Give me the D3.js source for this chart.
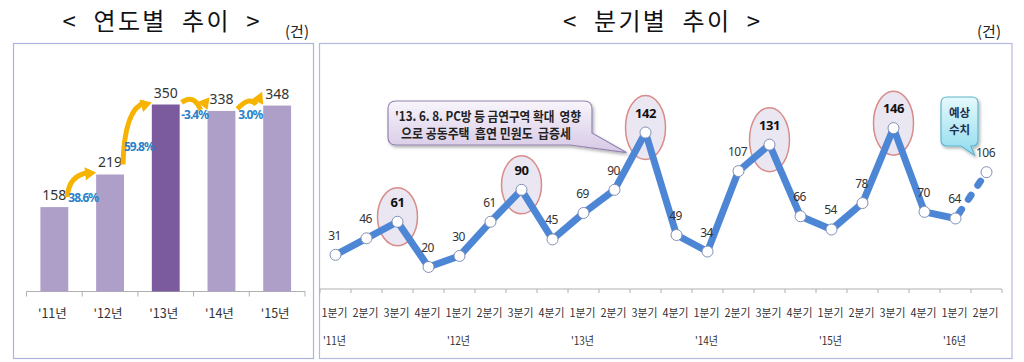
<!DOCTYPE html>
<html>
<head>
<meta charset="utf-8">
<script src="https://cdn.jsdelivr.net/npm/d3@7/dist/d3.min.js"></script>
<style>
  html, body { margin: 0; padding: 0; background: #fff; }
  svg { display: block; font-family: "Noto Sans CJK KR", "Noto Sans", sans-serif; }
</style>
</head>
<body>
<svg id="chart" width="1024" height="362"></svg>
<script>
// ---------- data ----------
const years = ["'11년", "'12년", "'13년", "'14년", "'15년"];
const yearValues = [158, 219, 350, 338, 348];
const yearGrowth = ["38.6%", "59.8%", "-3.4%", "3.0%"];
const peakYear = "'13년";

const quarters = ["1분기","2분기","3분기","4분기","1분기","2분기","3분기","4분기",
                  "1분기","2분기","3분기","4분기","1분기","2분기","3분기","4분기",
                  "1분기","2분기","3분기","4분기","1분기","2분기"];
const quarterYears = ["'11년", "'12년", "'13년", "'14년", "'15년", "'16년"];
const quarterValues = [31, 46, 61, 20, 30, 61, 90, 45, 69, 90, 142, 49, 34, 107, 131, 66, 54, 78, 146, 70, 64, 106];
const highlighted = [2, 6, 10, 14, 18];
const forecastIndex = 21;

const note1 = ["'13. 6. 8. PC방 등 금연구역 확대  영향", "으로 공동주택  흡연 민원도  급증세"];
const note2 = ["예상", "수치"];

// ---------- setup ----------
const svg = d3.select("#chart");
const defs = svg.append("defs");

const g1 = defs.append("linearGradient").attr("id", "noteGrad").attr("x1", 0).attr("y1", 0).attr("x2", 0).attr("y2", 1);
g1.append("stop").attr("offset", "0%").attr("stop-color", "#f8f5fb");
g1.append("stop").attr("offset", "100%").attr("stop-color", "#d6c8e6");
const g2 = defs.append("linearGradient").attr("id", "noteGrad2").attr("x1", 0).attr("y1", 0).attr("x2", 0).attr("y2", 1);
g2.append("stop").attr("offset", "0%").attr("stop-color", "#e6f9fc");
g2.append("stop").attr("offset", "100%").attr("stop-color", "#8fdcee");
const sh = defs.append("filter").attr("id", "shadow").attr("x", "-10%").attr("y", "-10%").attr("width", "130%").attr("height", "140%");
sh.append("feDropShadow").attr("dx", 1.5).attr("dy", 2).attr("stdDeviation", 1.5).attr("flood-color", "#000").attr("flood-opacity", 0.3);

// panel borders
svg.append("rect").attr("x", 13.5).attr("y", 43.5).attr("width", 300).attr("height", 315)
  .attr("fill", "none").attr("stroke", "#aeb3de").attr("stroke-width", 1.2);
svg.append("rect").attr("x", 319.5).attr("y", 43.5).attr("width", 692.5).attr("height", 315)
  .attr("fill", "none").attr("stroke", "#b4bade").attr("stroke-width", 1.2);

// titles
svg.append("text").attr("x", 161).attr("y", 30).attr("text-anchor", "middle")
  .attr("font-size", 24).attr("fill", "#111").attr("textLength", 197).attr("lengthAdjust", "spacing")
  .style("white-space", "pre").text("<  연도별  추이  >");
svg.append("text").attr("x", 661.5).attr("y", 30).attr("text-anchor", "middle")
  .attr("font-size", 24).attr("fill", "#111").attr("textLength", 197).attr("lengthAdjust", "spacing")
  .style("white-space", "pre").text("<  분기별  추이  >");
svg.append("text").attr("x", 297).attr("y", 37).attr("text-anchor", "middle")
  .attr("font-size", 15).attr("fill", "#222").text("(건)");
svg.append("text").attr("x", 989).attr("y", 37).attr("text-anchor", "middle")
  .attr("font-size", 15).attr("fill", "#222").text("(건)");

// ---------- left: yearly bars ----------
const xL = d3.scaleBand().domain(years).range([26.5, 305]).paddingInner(0.5).paddingOuter(0.25);
const yL = d3.scaleLinear().domain([0, 400]).range([291.5, 77.8]);
const left = svg.append("g");

left.append("line").attr("x1", 26.5).attr("x2", 305).attr("y1", yL(0)).attr("y2", yL(0))
  .attr("stroke", "#b0b0b0").attr("stroke-width", 1);
d3.range(years.length + 1).forEach(i => {
  const x = 26.5 + i * xL.step();
  left.append("line").attr("x1", x).attr("x2", x).attr("y1", yL(0)).attr("y2", yL(0) + 5)
    .attr("stroke", "#b0b0b0").attr("stroke-width", 1);
});

left.selectAll("rect.bar").data(years).enter().append("rect")
  .attr("x", d => xL(d)).attr("width", xL.bandwidth())
  .attr("y", (d, i) => yL(yearValues[i])).attr("height", (d, i) => yL(0) - yL(yearValues[i]))
  .attr("fill", d => d === peakYear ? "#7b5b9d" : "#ae9fc8");

left.selectAll("text.val").data(years).enter().append("text")
  .attr("x", d => xL(d) + xL.bandwidth() / 2).attr("y", (d, i) => yL(yearValues[i]) - 7)
  .attr("text-anchor", "middle").attr("font-size", 14).attr("fill", "#333")
  .attr("font-family", "'Noto Sans', sans-serif")
  .text((d, i) => yearValues[i]);

left.selectAll("text.xl").data(years).enter().append("text")
  .attr("x", d => xL(d) + xL.bandwidth() / 2 - 2).attr("y", yL(0) + 26)
  .attr("text-anchor", "middle").attr("font-size", 12.5).attr("fill", "#333")
  .text(d => d);

// growth arrows
yearGrowth.forEach((g, i) => {
  const a = years[i], b = years[i + 1];
  const ta = yL(yearValues[i]), tb = yL(yearValues[i + 1]);
  const rise = ta - tb;
  let sx, sy, ex, ey, cx, cy;
  if (rise > 20) {
    sx = xL(a) + xL.bandwidth() - (rise > 80 ? 4 : 1);
    sy = ta - (rise > 80 ? 16 : 10);
    ex = xL(b) - 1; ey = tb - 2;
    cx = sx + (ex - sx) * 0.05; cy = ey + (sy - ey) * 0.1;
  } else {
    sx = xL(a) + xL.bandwidth() + 2; sy = ta - 2;
    ex = xL(b) - 1; ey = tb - 1;
    cx = (sx + ex) / 2; cy = Math.min(sy, ey) - 9;
  }
  left.append("path")
    .attr("d", `M${sx},${sy} Q${cx},${cy} ${ex - 6},${ey}`)
    .attr("fill", "none").attr("stroke", "#f6b400").attr("stroke-width", 5).attr("stroke-linecap", "butt");
  const ang = Math.atan2(ey - cy, ex - 6 - cx);
  const hx = ex + 1, hy = ey;
  const bx = hx - 11 * Math.cos(ang), by = hy - 11 * Math.sin(ang);
  const px = -Math.sin(ang) * 6.5, py = Math.cos(ang) * 6.5;
  left.append("path")
    .attr("d", `M${hx},${hy} L${bx + px},${by + py} L${bx - px},${by - py} Z`)
    .attr("fill", "#f6b400");
  const gapC = (xL(a) + xL.bandwidth() + xL(b)) / 2;
  left.append("text").attr("x", gapC + 1).attr("y", (ta + tb) / 2 + 11)
    .attr("text-anchor", "middle").attr("font-size", 12).attr("font-weight", "bold")
    .attr("letter-spacing", -1).attr("fill", "#2b7fc9")
    .attr("font-family", "'Noto Sans', sans-serif")
    .text(g);
});

// ---------- right: quarterly line ----------
const idx = d3.range(quarters.length);
const xR = d3.scaleBand().domain(idx).range([320, 1002]);
const yR = d3.scaleLinear().domain([0, 160]).range([289, 112.7]);
const cxR = i => xR(i) + xR.bandwidth() / 2;
const right = svg.append("g");

right.append("line").attr("x1", 320).attr("x2", 1002).attr("y1", yR(0)).attr("y2", yR(0))
  .attr("stroke", "#b0b0b0").attr("stroke-width", 1);
d3.range(quarters.length + 1).forEach(i => {
  const x = 320 + i * xR.step();
  right.append("line").attr("x1", x).attr("x2", x).attr("y1", yR(0)).attr("y2", yR(0) + 4)
    .attr("stroke", "#b0b0b0").attr("stroke-width", 1);
});
right.selectAll("text.q").data(idx).enter().append("text")
  .attr("x", d => cxR(d) - 1).attr("y", yR(0) + 28)
  .attr("text-anchor", "middle").attr("font-size", 11.5).attr("fill", "#333")
  .attr("textLength", 26).attr("lengthAdjust", "spacingAndGlyphs")
  .text(d => quarters[d]);
right.selectAll("text.qy").data(quarterYears).enter().append("text")
  .attr("x", (d, i) => cxR(i * 4) - 1).attr("y", yR(0) + 56)
  .attr("text-anchor", "middle").attr("font-size", 11.5).attr("fill", "#333")
  .attr("textLength", 23).attr("lengthAdjust", "spacingAndGlyphs")
  .text(d => d);

right.selectAll("ellipse.hl").data(highlighted).enter().append("ellipse")
  .attr("cx", d => cxR(d)).attr("cy", d => yR(quarterValues[d]) - 5)
  .attr("rx", 20).attr("ry", d => quarterValues[d] > 100 ? 32 : 29)
  .attr("fill", "#e9e4f1").attr("fill-opacity", 0.9)
  .attr("stroke", "#d88c8a").attr("stroke-width", 1.5);

const solid = idx.filter(i => i < forecastIndex);
const line = d3.line().x(i => cxR(i)).y(i => yR(quarterValues[i]));
right.append("path").attr("d", line(solid))
  .attr("fill", "none").attr("stroke", "#4e86d6").attr("stroke-width", 7)
  .attr("stroke-linejoin", "round");
right.append("path").attr("d", line([forecastIndex - 1, forecastIndex]))
  .attr("fill", "none").attr("stroke", "#4e86d6").attr("stroke-width", 7)
  .attr("stroke-linecap", "round").attr("stroke-dasharray", "5,12").attr("stroke-dashoffset", -6);

right.selectAll("circle.m").data(idx).enter().append("circle")
  .attr("cx", d => cxR(d)).attr("cy", d => yR(quarterValues[d])).attr("r", 5.5)
  .attr("fill", "#fff").attr("stroke", "#7f8fb5").attr("stroke-width", 1);

right.selectAll("text.v").data(idx).enter().append("text")
  .attr("x", d => cxR(d) - (highlighted.includes(d) ? 0 : 1))
  .attr("y", d => yR(quarterValues[d]) - 15)
  .attr("text-anchor", "middle")
  .attr("font-size", d => highlighted.includes(d) ? 13 : 12)
  .attr("font-weight", d => highlighted.includes(d) ? "bold" : "normal")
  .attr("fill", d => highlighted.includes(d) ? "#111" : "#333")
  .attr("letter-spacing", -0.5)
  .attr("font-family", "'Noto Sans', sans-serif")
  .text(d => quarterValues[d]);

// callout 1
{
  const x0 = 388, y0 = 101, x1 = 592, y1 = 145, r = 8;
  const tipX = cxR(10) - 19, tipY = yR(quarterValues[10]) + 20;
  const p = `M${x0 + r},${y0} H${x1 - r} Q${x1},${y0} ${x1},${y0 + r} V${y1 - 12}
    L${tipX},${tipY} L${x1 - 22},${y1} H${x0 + r} Q${x0},${y1} ${x0},${y1 - r} V${y0 + r} Q${x0},${y0} ${x0 + r},${y0} Z`;
  right.append("path").attr("d", p).attr("fill", "url(#noteGrad)")
    .attr("stroke", "#9384b0").attr("stroke-width", 1.2).attr("filter", "url(#shadow)");
  right.append("text").attr("x", 488).attr("y", 121).attr("text-anchor", "middle")
    .attr("font-size", 13).attr("font-weight", "bold").attr("fill", "#222")
    .attr("textLength", 186).attr("lengthAdjust", "spacingAndGlyphs")
    .style("white-space", "pre").text(note1[0]);
  right.append("text").attr("x", 486).attr("y", 138).attr("text-anchor", "middle")
    .attr("font-size", 13).attr("font-weight", "bold").attr("fill", "#222")
    .attr("textLength", 170).attr("lengthAdjust", "spacingAndGlyphs")
    .style("white-space", "pre").text(note1[1]);
}

// callout 2
{
  const x0 = 941, y0 = 97, x1 = 978, y1 = 146, r = 6;
  const tipX = cxR(forecastIndex) - 12, tipY = yR(quarterValues[forecastIndex]) - 17;
  const p = `M${x0 + r},${y0} H${x1 - r} Q${x1},${y0} ${x1},${y0 + r} V${y1 - r} Q${x1},${y1} ${x1 - r},${y1}
    H${x1 - 7} L${tipX},${tipY} L${x1 - 17},${y1} H${x0 + r} Q${x0},${y1} ${x0},${y1 - r} V${y0 + r} Q${x0},${y0} ${x0 + r},${y0} Z`;
  right.append("path").attr("d", p).attr("fill", "url(#noteGrad2)")
    .attr("stroke", "#5fb6cc").attr("stroke-width", 1.2).attr("filter", "url(#shadow)");
  note2.forEach((t, i) => {
    right.append("text").attr("x", 959.5).attr("y", 117 + i * 17).attr("text-anchor", "middle")
      .attr("font-size", 11.5).attr("font-weight", "bold").attr("fill", "#1f2f4f")
      .text(t);
  });
}
</script>
</body>
</html>
